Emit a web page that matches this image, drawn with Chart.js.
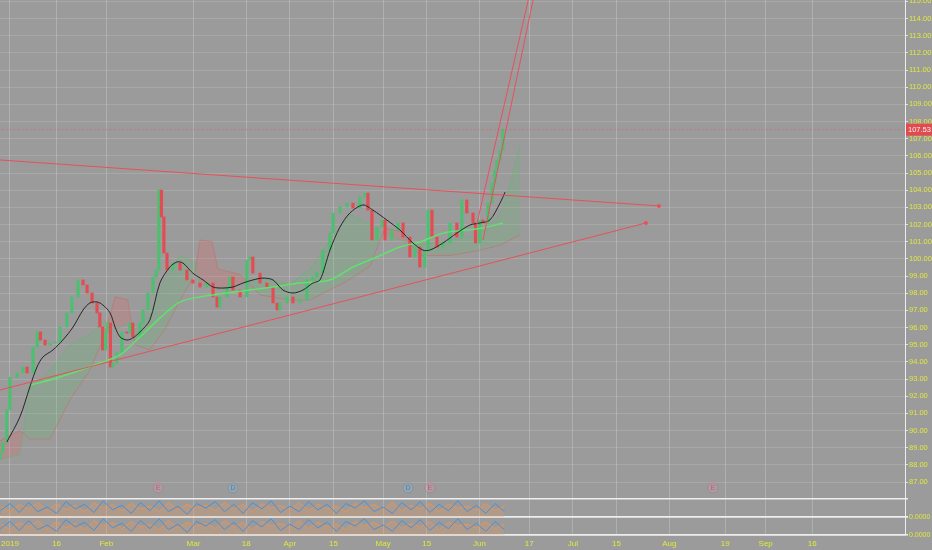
<!DOCTYPE html>
<html>
<head>
<meta charset="utf-8">
<script src="https://cdn.jsdelivr.net/npm/chart.js@4.4.1/dist/chart.umd.min.js"></script>
<style>
  html, body { margin: 0; padding: 0; background: #9b9b9b; }
  #wrap { width: 932px; height: 550px; }
</style>
</head>
<body>
<div id="wrap"><canvas id="myChart" width="932" height="550"></canvas></div>
<script>
// price path (days since 1 Jan 2019, close)
const days = [-3.2,-2.3,-1.0,0,2.3,4.2,5.5,7.4,8.8,9.8,11.3,12.9,14.5,16.1,18.3,19.9,21.9,23.5,24.8,26.4,
  28.0,28.9,29.8,30.7,31.5,32.3,33.1,34.4,36.0,37.6,38.6,39.5,41.8,42.8,44.4,46.0,47.0,47.9,48.7,49.5,
  50.5,52.4,54.7,56.9,58.8,61.1,63.3,65.3,66.6,67.5,69.8,70.7,71.7,74.0,76.2,77.2,78.1,80.4,82.6,84.6,
  85.9,86.8,89.1,91.0,93.2,95.5,97.4,98.7,100.6,102.9,103.9,106.1,108.4,110.3,112.5,114.1,115.1,116.4,118.0,119.6,
  120.6,122.8,124.8,126.4,128.6,130.2,131.8,133.4,134.4,135.7,137.3,139.2,141.5,143.7,145.3,146.9,148.9,149.7,151.1,152.1,
  153.7,155.0,155.9,156.6,157.6,158.5];
const closes = [88.7,89.3,91.2,93.1,93.35,93.7,93.35,94.86,95.74,95.27,94.98,95.1,95.16,96.03,96.85,97.78,98.77,98.48,98.01,97.43,
  96.85,96.03,94.69,95.68,96.26,93.7,93.93,94.52,95.74,95.68,96.26,95.45,96.26,97.02,98.01,98.94,99.35,104.0,102.44,100.34,
  99.35,99.76,99.35,98.77,98.59,98.36,98.59,97.78,97.19,97.78,98.36,98.94,98.18,97.78,99.93,100.11,99.17,98.59,98.36,97.43,
  97.02,97.43,97.78,97.43,97.6,98.77,98.94,99.2,100.51,101.5,102.67,103.02,103.25,102.96,103.6,103.83,102.84,101.1,101.85,102.26,
  101.1,101.68,102.09,101.27,100.11,100.69,99.52,100.51,102.84,101.27,100.69,100.92,102.09,101.27,103.43,102.67,102.09,100.92,102.26,102.09,
  103.25,104.42,105.17,105.76,106.34,107.53];
const lastPrice = 107.53;

// slow moving average (black)
const maDays = [-1.0,3.2,6.4,8.7,10.6,13.8,17.0,20.3,23.5,25.7,28.0,29.9,32.2,33.8,35.4,37.6,39.5,41.8,45.0,48.2,
  51.4,53.7,55.6,58.8,62.1,65.3,68.5,71.7,74.9,78.1,81.4,84.6,87.8,91.0,94.2,97.4,99.7,102.9,106.1,109.3,
  113.5,116.7,121.2,125.4,129.6,132.8,135.0,139.2,143.7,147.9,151.1,154.3,157.6,159.2];
const maBlack = [89.33,90.79,92.54,93.70,94.28,94.69,95.27,96.03,97.02,97.43,97.49,97.31,96.85,96.03,95.45,95.27,95.39,95.74,96.44,98.59,
  99.52,99.82,99.76,99.17,98.77,98.36,98.30,98.36,98.59,98.77,98.88,98.77,98.18,98.01,98.18,98.59,98.77,100.51,101.85,102.67,
  103.14,102.84,102.26,101.68,100.92,100.51,100.51,100.92,101.50,101.97,102.09,102.26,103.25,103.89];

// long moving average (green)
const longDays = [6.4,12.9,20.9,28.9,35.4,41.8,48.2,54.7,61.1,69.8,77.2,84.6,93.2,102.9,110.3,118.0,125.4,131.8,139.2,146.9,152.1,158.5];
const maGreen = [92.65,92.94,93.41,93.93,94.40,95.45,96.55,97.49,97.78,98.01,98.18,98.36,98.59,98.77,99.52,100.11,100.69,100.98,101.50,101.68,101.80,102.09];

// cloud (leading spans)
const cloudDays = [-3.2,3.2,6.4,12.9,19.3,25.7,30.5,33.8,37.9,40.2,45.0,49.8,54.7,59.5,61.1,65.0,66.9,74.0,80.4,90.0,
  96.5,102.9,109.3,115.8,120.6,125.4,131.8,141.5,151.1,157.6,160.8,164.0];
const spanA = [88.3,88.6,92.4,93.5,95.0,95.6,96.4,95.9,96.2,95.9,96.7,98.8,100.2,99.8,98.5,98.4,98.2,98.5,98.9,98.5,
  99.4,101.1,102.6,102.0,101.4,101.1,100.8,101.1,101.4,102.6,104.3,106.6];
const spanB = [89.4,90.0,89.5,89.5,91.8,93.5,95.6,97.8,97.6,95.0,94.7,95.9,97.6,99.1,101.1,101.0,99.4,99.1,97.9,97.6,
  97.6,98.2,98.8,99.6,101.8,101.6,100.2,100.2,100.5,100.8,101.1,101.4];

// drawn trend lines [day, price]
const upperLine = [[-3.2, 105.76], [208.7, 103.08]];
const lowerLine = [[-3.2, 92.36], [204.5, 102.09]];
const steepLine1 = [[149.9, 101.85], [167.2, 115.5]];
const steepLine2 = [[152.1, 101.10], [168.7, 115.5]];

// event markers
const markerDays = [47.6, 71.7, 128.0, 135.0, 226.0];
const markerLetters = ['E', 'D', 'D', 'E', 'E'];

// oscillator panes
const oscDays = [-3,0,3,6,9,12,15,18,21,24,27,30,33,36,39,42,45,48,51,54,57,60,63,66,69,72,75,78,81,84,
  87,90,93,96,99,102,105,108,111,114,117,120,123,126,129,132,135,138,141,144,147,150,153,156,159];
const oscBlue = [0.35,0.75,0.25,0.8,0.3,0.55,0.2,0.85,0.45,0.7,0.25,0.9,0.4,0.65,0.2,0.8,0.35,0.9,0.3,0.6,
  0.15,0.75,0.5,0.85,0.3,0.7,0.2,0.8,0.45,0.9,0.25,0.6,0.3,0.85,0.4,0.7,0.2,0.75,0.5,0.9,
  0.3,0.55,0.2,0.8,0.4,0.85,0.25,0.7,0.35,0.9,0.3,0.65,0.2,0.75,0.3];
const oscOrange = [0.6,0.3,0.7,0.45,0.8,0.35,0.75,0.4,0.65,0.3,0.8,0.5,0.7,0.35,0.75,0.45,0.6,0.3,0.8,0.4,
  0.7,0.5,0.65,0.35,0.8,0.45,0.7,0.3,0.75,0.5,0.65,0.4,0.8,0.35,0.7,0.45,0.6,0.3,0.75,0.5,
  0.7,0.4,0.8,0.35,0.65,0.45,0.75,0.3,0.7,0.5,0.6,0.4,0.75,0.35,0.6];

// time axis
const tickDays = [0, 15, 31, 59, 76, 90, 104, 120, 134, 151, 167, 181, 195, 212, 230, 243, 258];
const tickLabels = ['2019', '16', 'Feb', 'Mar', '18', 'Apr', '15', 'May', '15', 'Jun', '17', 'Jul', '15', 'Aug', '19', 'Sep', '16'];
const priceTicks = [87,88,89,90,91,92,93,94,95,96,97,98,99,100,101,102,103,104,105,106,107,108,109,110,111,112,113,114,115];

const YELLOW = '#e2e83a';
const GREEN = '#4cbf70';
const RED = '#e24c52';
const LINE_RED = '#e8505c';
const FONT = '"Liberation Sans", Arial, sans-serif';

const pts = (xs, ys) => xs.map((x, i) => ({x: x, y: ys[i]}));
const pairPts = arr => arr.map(p => ({x: p[0], y: p[1]}));

const candles = days.map((d, i) => {
    const open = i === 0 ? closes[0] - 0.4 : closes[i - 1];
    return {x: d, y: [open, closes[i]]};
});
const candleColors = candles.map(c => c.y[1] >= c.y[0] ? GREEN : RED);

// no label overflow padding, so the plot fills the canvas edge to edge
const noPad = s => { s.paddingLeft = 0; s.paddingRight = 0; s.paddingTop = 0; s.paddingBottom = 0; };

const bgPlugin = {
    id: 'bg',
    beforeDraw(chart) {
        const ctx = chart.ctx;
        ctx.save();
        ctx.fillStyle = '#9b9b9b';
        ctx.fillRect(0, 0, chart.width, chart.height);
        ctx.restore();
    },
    afterDraw(chart) {
        const ctx = chart.ctx;
        const y = chart.scales.y;
        const x = chart.scales.x;
        ctx.save();
        // event letters
        ctx.font = '7px ' + FONT;
        ctx.textAlign = 'center';
        ctx.textBaseline = 'middle';
        markerDays.forEach((d, i) => {
            ctx.fillStyle = markerLetters[i] === 'E' ? '#e0487a' : '#2f86d8';
            ctx.fillText(markerLetters[i], x.getPixelForValue(d), y.getPixelForValue(86.65));
        });
        // last price label
        const py = y.getPixelForValue(lastPrice);
        ctx.fillStyle = '#e24a50';
        ctx.fillRect(y.left + 1, py - 6, chart.width - y.left - 1, 12);
        ctx.fillStyle = '#f4f4f4';
        ctx.textAlign = 'left';
        ctx.font = '7.5px ' + FONT;
        ctx.fillText(lastPrice.toFixed(2), y.left + 3, py + 0.5);
        ctx.restore();
    }
};

const ctx = document.getElementById('myChart');
const myChart = new Chart(ctx, {
    type: 'line',
    data: {
        datasets: [
            {   // trend lines
                data: pairPts(upperLine), yAxisID: 'y', borderColor: LINE_RED, borderWidth: 1,
                pointRadius: [0, 2], pointBackgroundColor: LINE_RED, pointBorderWidth: 0, order: 1
            },
            {
                data: pairPts(lowerLine), yAxisID: 'y', borderColor: LINE_RED, borderWidth: 1,
                pointRadius: [0, 2], pointBackgroundColor: LINE_RED, pointBorderWidth: 0, order: 1
            },
            {
                data: pairPts(steepLine1), yAxisID: 'y', borderColor: LINE_RED, borderWidth: 1, pointRadius: 0, order: 1
            },
            {
                data: pairPts(steepLine2), yAxisID: 'y', borderColor: LINE_RED, borderWidth: 1, pointRadius: 0, order: 1
            },
            {   // last price line
                data: [{x: -4, y: lastPrice}, {x: 290, y: lastPrice}], yAxisID: 'y',
                borderColor: 'rgba(232,80,92,0.45)', borderWidth: 1, borderDash: [2, 2], pointRadius: 0, order: 1
            },
            {
                data: pts(maDays, maBlack), yAxisID: 'y', borderColor: '#262626', borderWidth: 1,
                pointRadius: 0, tension: 0.3, order: 2
            },
            {
                data: pts(longDays, maGreen), yAxisID: 'y', borderColor: '#5fe36a', borderWidth: 1.5,
                pointRadius: 0, tension: 0.3, order: 2
            },
            {
                type: 'bar', data: candles, yAxisID: 'y', backgroundColor: candleColors,
                barThickness: 2.5, grouped: false, minBarLength: 1, order: 3
            },
            {   // cloud span A, filled to span B
                data: pts(cloudDays, spanA), yAxisID: 'y', borderColor: 'rgba(80,190,100,0.4)', borderWidth: 1,
                pointRadius: 0,
                fill: {target: '+1', above: 'rgba(90,190,110,0.2)', below: 'rgba(235,90,90,0.22)'}, order: 5
            },
            {
                data: pts(cloudDays, spanB), yAxisID: 'y', borderColor: 'rgba(220,90,90,0.4)', borderWidth: 1,
                pointRadius: 0, order: 5
            },
            {   // event circles
                type: 'scatter', data: markerDays.map(d => ({x: d, y: 86.65})), yAxisID: 'y',
                pointRadius: 5, pointBackgroundColor: 'rgba(255,255,255,0.08)',
                pointBorderColor: markerLetters.map(l => l === 'E' ? 'rgba(224,72,122,0.35)' : 'rgba(47,134,216,0.35)'),
                pointBorderWidth: 1, order: 1
            },
            {
                data: pts(oscDays, oscOrange), yAxisID: 'osc1', borderColor: '#e8945a', borderWidth: 1,
                pointRadius: 0, fill: {target: 'origin', above: 'rgba(230,150,90,0.28)'}, order: 4
            },
            {
                data: pts(oscDays, oscBlue), yAxisID: 'osc1', borderColor: '#4a8fd6', borderWidth: 1,
                pointRadius: 0, order: 3
            },
            {
                data: pts(oscDays, oscOrange), yAxisID: 'osc2', borderColor: '#e8945a', borderWidth: 1,
                pointRadius: 0, fill: {target: 'origin', above: 'rgba(230,150,90,0.28)'}, order: 4
            },
            {
                data: pts(oscDays, oscBlue), yAxisID: 'osc2', borderColor: '#4a8fd6', borderWidth: 1,
                pointRadius: 0, order: 3
            }
        ]
    },
    plugins: [bgPlugin],
    options: {
        responsive: false,
        animation: false,
        layout: { padding: 0, autoPadding: false },
        plugins: { legend: { display: false }, tooltip: { enabled: false } },
        scales: {
            x: {
                type: 'linear', min: -3.2, max: 287.8, offset: false,
                grid: { color: 'rgba(255,255,255,0.2)', drawTicks: false, offset: false },
                border: { color: '#ededed', width: 1.5 },
                afterBuildTicks: s => { s.ticks = tickDays.map(v => ({value: v})); },
                afterFit: s => { s.height = 15; noPad(s); },
                ticks: {
                    color: YELLOW, font: { size: 8, family: FONT },
                    padding: 4, maxRotation: 0, autoSkip: false,
                    callback: (v, i) => tickLabels[i]
                }
            },
            y: {
                type: 'linear', position: 'right', stack: 'panes', stackWeight: 499,
                min: 86.01, max: 115.08,
                grid: { color: 'rgba(255,255,255,0.13)', tickColor: 'rgba(255,255,255,0.7)', tickLength: 3 },
                border: { color: '#ededed', width: 1 },
                afterBuildTicks: s => { s.ticks = priceTicks.map(v => ({value: v})); },
                afterFit: s => { s.width = 27; noPad(s); },
                ticks: {
                    color: YELLOW, font: { size: 7.5, family: FONT }, autoSkip: false,
                    padding: 1, callback: v => v.toFixed(2)
                }
            },
            osc1: {
                type: 'linear', position: 'right', stack: 'panes', stackWeight: 18, min: 0, max: 1,
                grid: { color: '#eeeeee', lineWidth: 1.5, tickLength: 3 },
                border: { color: '#ededed', width: 1 },
                afterBuildTicks: s => { s.ticks = [{value: 0}, {value: 1}]; },
                afterFit: s => { s.width = 27; noPad(s); },
                ticks: {
                    color: YELLOW, font: { size: 7, family: FONT }, autoSkip: false,
                    padding: 1, callback: v => v === 0 ? '0.0000' : ''
                }
            },
            osc2: {
                type: 'linear', position: 'right', stack: 'panes', stackWeight: 18, min: 0, max: 1,
                grid: { color: '#eeeeee', lineWidth: 1.5, tickLength: 3 },
                border: { color: '#ededed', width: 1 },
                afterBuildTicks: s => { s.ticks = [{value: 0}, {value: 1}]; },
                afterFit: s => { s.width = 27; noPad(s); },
                ticks: {
                    color: YELLOW, font: { size: 7, family: FONT }, autoSkip: false,
                    padding: 1, callback: v => v === 0 ? '0.0000' : ''
                }
            }
        }
    }
});
</script>
</body>
</html>
